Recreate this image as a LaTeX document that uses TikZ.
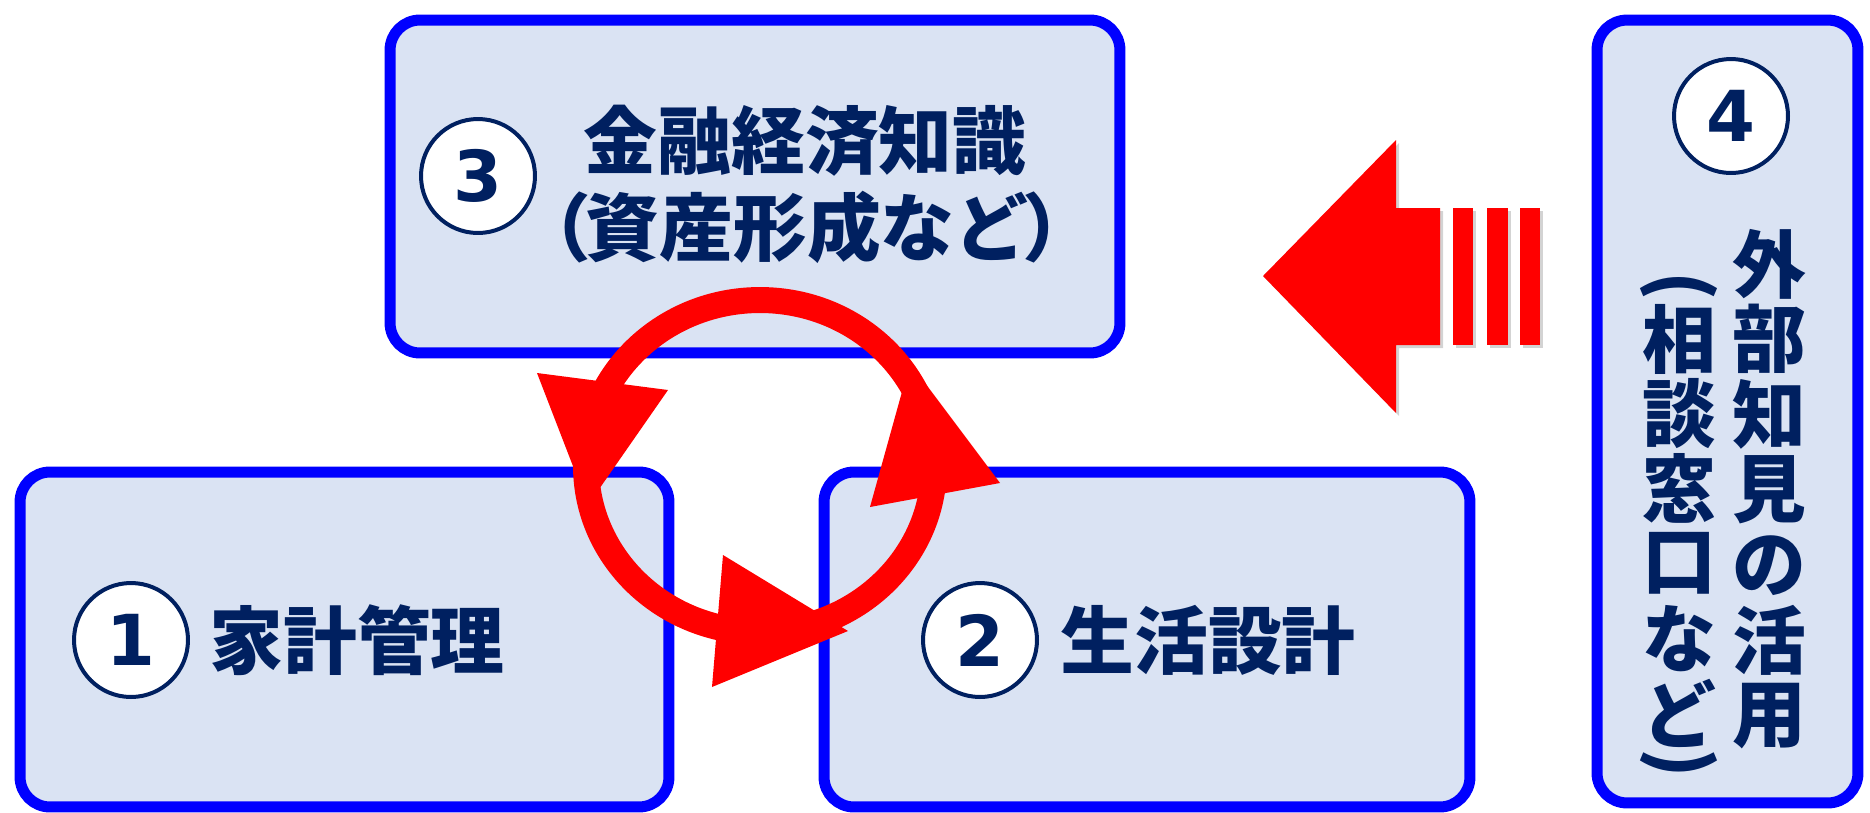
\documentclass[tikz,border=0pt]{standalone}
\usepackage{fontspec}
\newfontfamily\cjk{Noto Sans CJK JP}
\newfontfamily\numfont{DejaVu Sans}
\usetikzlibrary{shadows}
\definecolor{boxblue}{HTML}{0000FF}
\definecolor{boxfill}{HTML}{DAE3F3}
\definecolor{navy}{HTML}{002060}
\definecolor{arrred}{HTML}{FF0000}
\begin{document}
\begin{tikzpicture}[x=0.02cm,y=-0.02cm,
  panel/.style={draw=boxblue, fill=boxfill, line width=0.22cm, rounded corners=0.6cm, inner sep=0pt},
  numcirc/.style={circle, draw=navy, fill=white, line width=0.08cm, minimum size=2.28cm, inner sep=0pt, text=navy, font=\numfont\bfseries\fontsize{40pt}{40pt}\selectfont},
  lbl/.style={text=navy, font=\cjk\bfseries\fontsize{42pt}{42pt}\selectfont, inner sep=0pt},
  ring/.style={draw=arrred, line width=0.52cm},
  redfill/.style={fill=arrred},
  shad/.style={drop shadow={shadow xshift=0.06cm, shadow yshift=-0.06cm, opacity=0.35}},
]
\useasboundingbox (0,0) rectangle (1870,812);
% panels
\node[panel, minimum width=14.6cm, minimum height=6.66cm] (b3) at (755,186.5) {};
\node[panel, minimum width=12.98cm, minimum height=6.7cm] (b1) at (344.5,639.5) {};
\node[panel, minimum width=12.92cm, minimum height=6.7cm] (b2) at (1147,639.5) {};
\node[panel, minimum width=5.22cm, minimum height=15.66cm] (b4) at (1727.5,411.5) {};
% number circles
\node[numcirc] (n3) at (478,176) {3};
\node[numcirc] (n1) at (131,640) {1};
\node[numcirc] (n2) at (980,640) {2};
\node[numcirc] (n4) at (1731,116) {4};
% labels
\node[lbl] (t3a) at (805,141) {金融経済知識};
\node[lbl] (t3b) at (807,227) {（\kern-0.08em 資産形成など\kern-0.08em ）};
\node[lbl] (t1) at (357,640) {家計管理};
\node[lbl] (t2) at (1208,640) {生活設計};
\foreach \ch [count=\i] in {外,部,知,見,の,活,用}
  \node[lbl] (va\i) at (1769,{264+75.3*(\i-1)}) {\ch};
\foreach \ch [count=\i] in {相,談,窓,口,な,ど}
  \node[lbl] (vb\i) at (1679,{339+74.8*(\i-1)}) {\ch};
\node[lbl, rotate=-90] (vbo) at (1679,286) {(};
\node[lbl, rotate=-90] (vbc) at (1679,763) {)};
% big arrow
\fill[redfill, shad]
  (1263,276) -- (1396,140) -- (1396,208) -- (1440,208) -- (1440,345) -- (1396,345) -- (1396,413) -- cycle;
\fill[redfill, shad] (1453,208) rectangle (1473,345);
\fill[redfill, shad] (1487,208) rectangle (1508,345);
\fill[redfill, shad] (1520,208) rectangle (1540,345);
% cycle ring
\draw[ring] (760,466) ellipse [x radius=3.48cm, y radius=3.32cm];
\fill[redfill] (537,373) -- (668,390) -- (588,505) -- cycle;
\fill[redfill] (870,507) -- (1000,483) -- (910,363) -- cycle;
\fill[redfill] (723,555) -- (848,631) -- (712,687) -- cycle;
\end{tikzpicture}
\end{document}
